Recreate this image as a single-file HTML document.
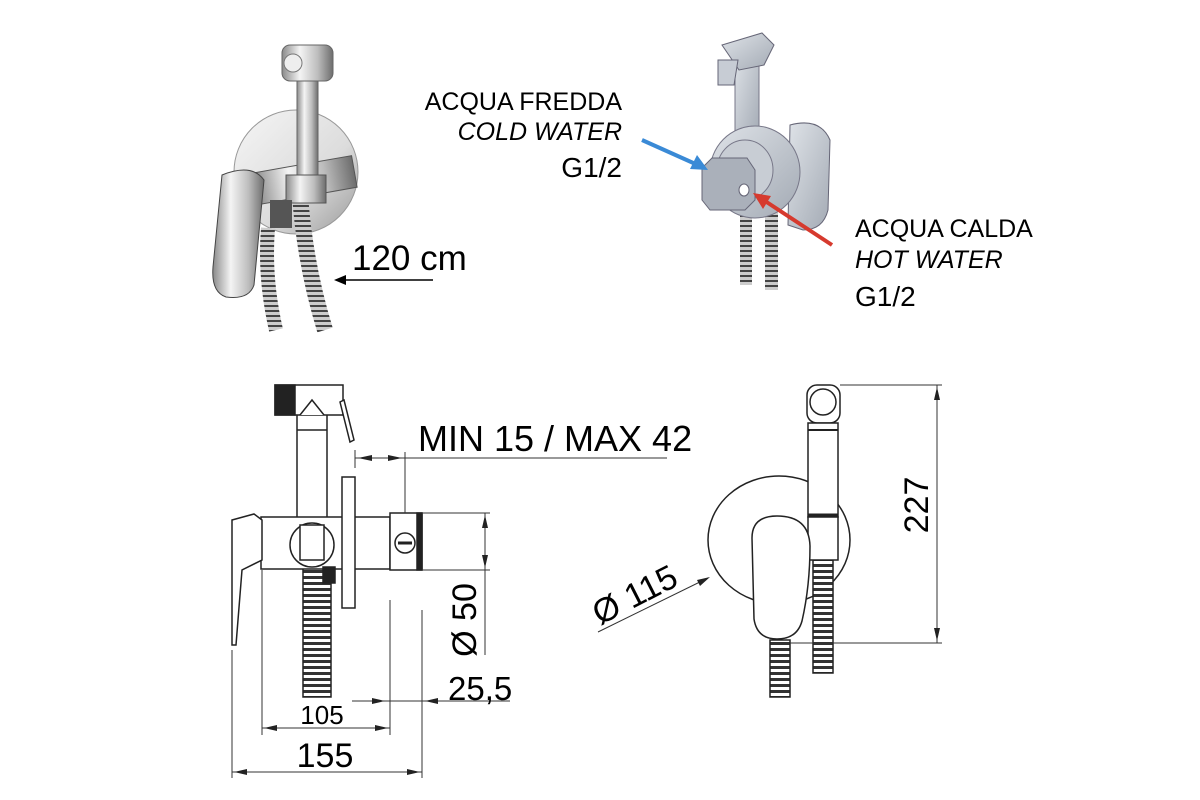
<!DOCTYPE html>
<html><head><meta charset="utf-8"><style>
html,body{margin:0;padding:0;background:#fff;}
svg{display:block;font-family:"Liberation Sans",sans-serif;}
</style></head><body>
<svg width="1200" height="800" viewBox="0 0 1200 800" xmlns="http://www.w3.org/2000/svg">
<defs>
<linearGradient id="chrome" x1="0" x2="1" y1="0" y2="0">
<stop offset="0" stop-color="#8a8a8a"/><stop offset="0.35" stop-color="#f4f4f4"/><stop offset="0.7" stop-color="#bdbdbd"/><stop offset="1" stop-color="#6d6d6d"/></linearGradient>
<linearGradient id="disk" x1="0" x2="1" y1="0" y2="1">
<stop offset="0" stop-color="#f6f6f6"/><stop offset="0.6" stop-color="#dcdcdc"/><stop offset="1" stop-color="#999"/></linearGradient>
<linearGradient id="grey3d" x1="0" x2="1" y1="0" y2="1">
<stop offset="0" stop-color="#dfe3e8"/><stop offset="1" stop-color="#a3aab4"/></linearGradient>
<pattern id="hose" width="6" height="5" patternUnits="userSpaceOnUse"><rect width="6" height="5" fill="#ccc"/><rect y="0" width="6" height="2" fill="#444"/></pattern>
<pattern id="hoseD" width="30" height="6" patternUnits="userSpaceOnUse"><rect width="30" height="6" fill="#fff"/><rect y="0" width="30" height="3" fill="#333"/></pattern>
</defs>

<!-- Top left photo -->
<circle cx="296" cy="172" r="62" fill="url(#disk)" stroke="#999"/>
<path d="M300 195 q5 70 25 135" stroke="url(#hose)" stroke-width="16" fill="none"/>
<path d="M268 228 q-4 50 8 102" stroke="url(#hose)" stroke-width="14" fill="none"/>
<rect x="255" y="165" width="100" height="32" fill="url(#chrome)" stroke="#555" transform="rotate(-10 300 180)"/>
<rect x="297" y="77" width="21" height="110" fill="url(#chrome)" stroke="#666"/>
<rect x="282" y="45" width="51" height="36" rx="8" fill="url(#chrome)" stroke="#666"/>
<circle cx="293" cy="63" r="9" fill="#eee" stroke="#777"/>
<rect x="286" y="175" width="40" height="28" fill="url(#chrome)" stroke="#555"/>
<rect x="270" y="200" width="22" height="28" fill="#555"/>
<path d="M222 175 q30 -12 42 5 l-10 105 q-5 15 -28 12 q-15 -5 -13 -30 z" fill="url(#chrome)" stroke="#444"/>
<line x1="433" y1="280" x2="340" y2="280" stroke="#000" stroke-width="1.5"/>
<polygon points="334,280 346,275 346,285" fill="#000"/>
<text x="352" y="270" font-size="35">120 cm</text>

<!-- Top right render -->
<rect x="740" y="210" width="12" height="75" fill="url(#hose)"/>
<rect x="765" y="210" width="13" height="80" fill="url(#hose)"/>
<path d="M790 125 q30 -8 40 15 l-2 70 q-5 20 -25 20 l-15 -5 z" fill="url(#grey3d)" stroke="#667"/>
<rect x="735" y="50" width="24" height="90" fill="url(#grey3d)" stroke="#778"/>
<path d="M722 45 l40 -12 l12 12 l-10 20 l-25 5 z" fill="url(#grey3d)" stroke="#667"/>
<path d="M718 60 l20 0 l-4 25 l-16 0 z" fill="#c7ccd4" stroke="#667"/>
<ellipse cx="755" cy="172" rx="45" ry="46" fill="url(#grey3d)" stroke="#778"/>
<ellipse cx="745" cy="170" rx="28" ry="30" fill="#c8cdd4" stroke="#778"/>
<path d="M702 168 l10 -10 l35 0 l8 12 l0 30 l-10 10 l-35 0 l-8 -10 z" fill="#aab0ba" stroke="#667"/>
<ellipse cx="744" cy="190" rx="5" ry="6" fill="#fff" stroke="#667"/>
<line x1="642" y1="140" x2="700" y2="166" stroke="#3a8ad6" stroke-width="4"/>
<polygon points="708,170 690,169 697,155" fill="#3a8ad6"/>
<line x1="832" y1="245" x2="762" y2="199" stroke="#d63a2e" stroke-width="4"/>
<polygon points="753,193 771,196 763,209" fill="#d63a2e"/>
<g font-size="25" text-anchor="end">
<text x="622" y="110">ACQUA FREDDA</text>
<text x="622" y="140" font-style="italic">COLD WATER</text>
<text x="622" y="177" font-size="28">G1/2</text>
</g>
<g font-size="25">
<text x="855" y="237">ACQUA CALDA</text>
<text x="855" y="268" font-style="italic">HOT WATER</text>
<text x="855" y="306" font-size="28">G1/2</text>
</g>

<!-- Bottom left drawing -->
<g stroke="#222" stroke-width="1.5" fill="#fff">
<rect x="303" y="560" width="28" height="137" fill="url(#hoseD)"/>
<rect x="297" y="400" width="30" height="120"/>
<line x1="297" y1="430" x2="327" y2="430"/>
<rect x="275" y="385" width="68" height="30"/>
<rect x="275" y="385" width="20" height="30" fill="#222"/>
<path d="M300 415 l12 -15 l12 15"/>
<path d="M340 402 l10 40 l4 -2 l-10 -40 z"/>
<rect x="261" y="517" width="129" height="52"/>
<path d="M232 520 l22 -6 l8 6 l0 40 l-20 10 l-6 75 l-4 0 z"/>
<circle cx="312" cy="545" r="22"/>
<rect x="300" y="525" width="24" height="35"/>
<rect x="323" y="567" width="12" height="16" fill="#222"/>
<rect x="342" y="477" width="13" height="131"/>
<rect x="390" y="513" width="32" height="57"/>
<rect x="417" y="513" width="5" height="57" fill="#222"/>
<circle cx="405" cy="543" r="10"/>
<line x1="398" y1="543" x2="412" y2="543" stroke-width="3"/>
</g>
<g stroke="#333" stroke-width="1" fill="none">
<line x1="355" y1="458" x2="667" y2="458"/>
<line x1="355" y1="450" x2="355" y2="468"/>
<line x1="405" y1="452" x2="405" y2="513"/>
<line x1="422" y1="513" x2="490" y2="513"/>
<line x1="422" y1="570" x2="490" y2="570"/>
<line x1="485" y1="513" x2="485" y2="655"/>
<line x1="352" y1="701" x2="510" y2="701"/>
<line x1="262" y1="570" x2="262" y2="735"/>
<line x1="390" y1="600" x2="390" y2="735"/>
<line x1="422" y1="610" x2="422" y2="778"/>
<line x1="232" y1="650" x2="232" y2="778"/>
<line x1="262" y1="728" x2="390" y2="728"/>
<line x1="232" y1="772" x2="422" y2="772"/>
</g>
<g fill="#222">
<polygon points="358,458 372,455 372,461"/>
<polygon points="402,458 388,455 388,461"/>
<polygon points="485,515 482,528 488,528"/>
<polygon points="485,568 482,555 488,555"/>
<polygon points="385,701 372,698 372,704"/>
<polygon points="425,701 438,698 438,704"/>
<polygon points="264,728 277,725 277,731"/>
<polygon points="388,728 375,725 375,731"/>
<polygon points="234,772 247,769 247,775"/>
<polygon points="420,772 407,769 407,775"/>
</g>
<text x="418" y="451" font-size="36">MIN 15 / MAX 42</text>
<text transform="translate(476,620) rotate(-90)" font-size="34" text-anchor="middle">Ø 50</text>
<text x="448" y="700" font-size="33">25,5</text>
<text x="322" y="724" font-size="26" text-anchor="middle">105</text>
<text x="325" y="767" font-size="34" text-anchor="middle">155</text>

<!-- Bottom right drawing -->
<g stroke="#222" stroke-width="1.5" fill="#fff">
<ellipse cx="779" cy="540" rx="71" ry="64"/>
<rect x="770" y="640" width="20" height="57" fill="url(#hoseD)"/>
<rect x="813" y="560" width="20" height="113" fill="url(#hoseD)"/>
<rect x="807" y="385" width="33" height="38" rx="10"/>
<circle cx="823" cy="402" r="13"/>
<rect x="808" y="423" width="30" height="94"/>
<line x1="808" y1="430" x2="838" y2="430" stroke-width="2"/>
<line x1="808" y1="515" x2="838" y2="515" stroke-width="3"/>
<rect x="808" y="517" width="30" height="43"/>
<path d="M752 538 q0 -22 25 -22 q32 0 33 30 q0 40 -8 75 q-5 18 -25 18 q-20 0 -23 -20 z"/>
</g>
<g stroke="#333" stroke-width="1" fill="none">
<line x1="840" y1="385" x2="942" y2="385"/>
<line x1="790" y1="643" x2="942" y2="643"/>
<line x1="937" y1="385" x2="937" y2="643"/>
<line x1="598" y1="632" x2="708" y2="578"/>
</g>
<g fill="#222">
<polygon points="937,387 934,400 940,400"/>
<polygon points="937,641 934,628 940,628"/>
<polygon points="710,577 697,580 700,586"/>
</g>
<text transform="translate(928,505) rotate(-90)" font-size="34" text-anchor="middle">227</text>
<text transform="translate(640,605) rotate(-27)" font-size="34" text-anchor="middle">Ø 115</text>
</svg>
</body></html>
